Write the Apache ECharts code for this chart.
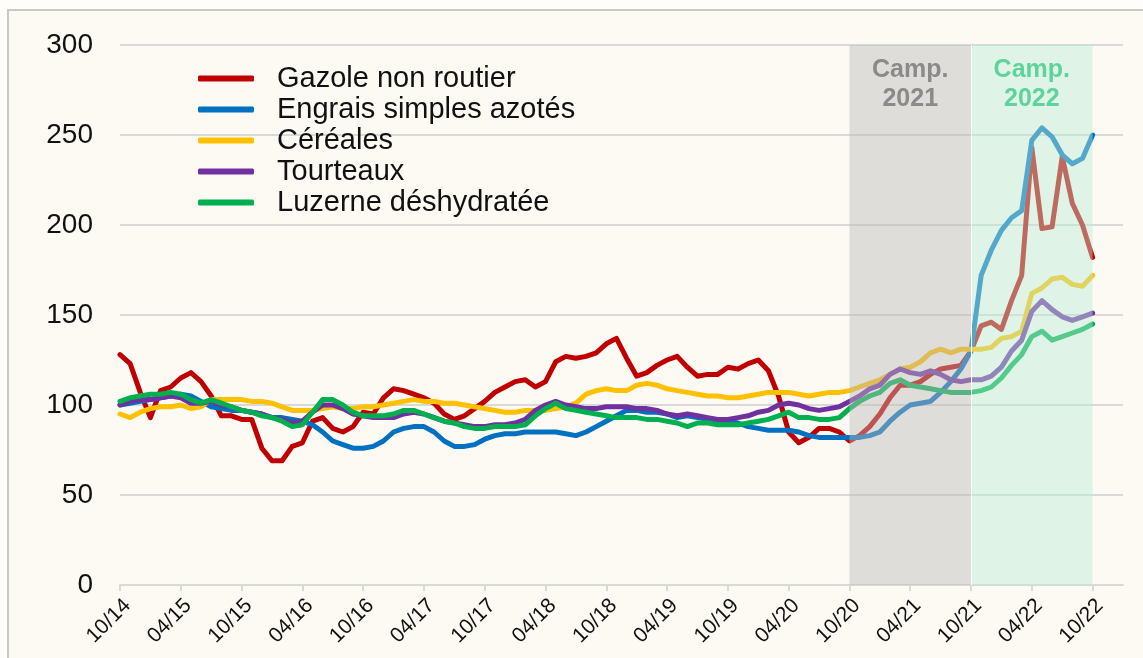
<!DOCTYPE html>
<html>
<head>
<meta charset="utf-8">
<script src="https://cdn.jsdelivr.net/npm/echarts@6/dist/echarts.min.js"></script>
<style>
	html, body { margin: 0; padding: 0; background: #fefdfa; }
	#chart { width: 1143px; height: 658px; }
</style>
</head>
<body>
<div id="chart"></div>
<script>
// monthly index, 10/14 -> 10/22 (97 points), base 100
var gazole = [128, 123, 107, 93, 108, 110, 115, 118, 113, 105, 94, 94, 92, 92, 76, 69, 69, 77, 79, 91,
	93, 87, 85, 88, 96, 95, 104, 109, 108, 106, 104, 101, 95, 92, 94, 98, 102, 107, 110, 113,
	114, 110, 113, 124, 127, 126, 127, 129, 134, 137, 126, 116, 118, 122, 125, 127, 121, 116, 117, 117,
	121, 120, 123, 125, 119, 105, 85, 79, 82, 87, 87, 85, 80, 83, 88, 95, 104, 111, 111, 113,
	117, 120, 121, 122, 130, 144, 146, 142, 158, 172, 243, 198, 199, 238, 212, 200, 182];
var engrais = [100, 101, 102, 103, 104, 105, 106, 105, 102, 99, 98, 97, 97, 96, 95, 93, 93, 92, 91, 89,
	85, 80, 78, 76, 76, 77, 80, 85, 87, 88, 88, 85, 80, 77, 77, 78, 81, 83, 84, 84,
	85, 85, 85, 85, 84, 83, 85, 88, 91, 94, 97, 97, 96, 96, 95, 93, 94, 93, 92, 91,
	91, 90, 88, 87, 86, 86, 86, 85, 83, 82, 82, 82, 82, 82, 83, 85, 91, 96, 100, 101,
	102, 107, 113, 120, 130, 172, 186, 197, 204, 208, 247, 254, 249, 239, 234, 237, 250];
var cereales = [95, 93, 96, 98, 99, 99, 100, 98, 99, 103, 103, 103, 103, 102, 102, 101, 99, 97, 97, 97,
	98, 99, 98, 98, 99, 99, 100, 101, 102, 103, 102, 102, 101, 101, 100, 99, 98, 97, 96, 96,
	97, 97, 97, 98, 99, 101, 106, 108, 109, 108, 108, 111, 112, 111, 109, 108, 107, 106, 105, 105,
	104, 104, 105, 106, 107, 107, 107, 106, 105, 106, 107, 107, 108, 110, 112, 114, 117, 120, 121, 124,
	129, 131, 129, 131, 131, 131, 132, 137, 138, 141, 162, 165, 170, 171, 167, 166, 172];
var tourteaux = [100, 102, 103, 103, 104, 105, 104, 101, 101, 102, 100, 99, 97, 96, 95, 93, 92, 90, 91, 96,
	100, 100, 98, 95, 94, 93, 93, 93, 95, 96, 95, 93, 91, 90, 89, 88, 88, 89, 89, 90,
	92, 97, 100, 102, 100, 99, 98, 98, 99, 99, 99, 98, 98, 97, 95, 94, 95, 94, 93, 92,
	92, 93, 94, 96, 97, 100, 101, 100, 98, 97, 98, 99, 102, 105, 109, 111, 117, 120, 118, 117,
	119, 117, 114, 113, 114, 114, 116, 121, 130, 136, 152, 158, 153, 149, 147, 149, 151];
var luzerne = [102, 104, 105, 106, 106, 107, 106, 103, 101, 103, 101, 99, 97, 96, 94, 93, 91, 88, 89, 96,
	103, 103, 100, 96, 94, 94, 94, 95, 97, 97, 95, 93, 91, 90, 88, 87, 87, 88, 88, 88,
	89, 94, 98, 101, 98, 97, 96, 95, 94, 93, 93, 93, 92, 92, 91, 90, 88, 90, 90, 89,
	89, 89, 90, 91, 92, 94, 96, 93, 93, 92, 92, 93, 98, 102, 105, 107, 112, 114, 111, 110,
	109, 108, 107, 107, 107, 108, 110, 115, 122, 128, 138, 141, 136, 138, 140, 142, 145];

var seriesNames = ['Gazole non routier', 'Engrais simples azotés', 'Céréales', 'Tourteaux', 'Luzerne déshydratée'];
var seriesColors = ['#c00000', '#0070c0', '#ffc000', '#7030a0', '#00b050'];
var yTicks = [0, 50, 100, 150, 200, 250, 300];

// months 10/14 .. 01/23 (axis runs three months past the last point)
var months = [];
for (var i = 0; i < 100; i++) {
	var m = (9 + i) % 12 + 1;
	var y = 14 + Math.floor((9 + i) / 12);
	months.push((m < 10 ? '0' + m : '' + m) + '/' + y);
}
var lastLabel = 96;

var chart = echarts.init(document.getElementById('chart'));
var values = [gazole, engrais, cereales, tourteaux, luzerne];
var lineSeries = values.map(function (d, k) {
	return {
		name: seriesNames[k],
		type: 'line',
		data: d,
		symbol: 'none',
		z: 2,
		lineStyle: { width: 5, color: seriesColors[k], cap: 'round', join: 'round' },
		itemStyle: { color: seriesColors[k] }
	};
});

// bands drawn over the lines
lineSeries.push({
	name: 'bands',
	type: 'line',
	data: [],
	silent: true,
	markArea: {
		silent: true,
		z: 5,
		label: {
			show: true,
			position: 'insideTop',
			distance: 11,
			fontFamily: 'Liberation Sans',
			fontWeight: 'bold',
			fontSize: 25,
			lineHeight: 29
		},
		data: [
			[{ xAxis: '10/20', itemStyle: { color: 'rgba(186,186,187,0.45)' }, label: { formatter: 'Camp.\n2021', color: '#8a8a8a' } }, { xAxis: '10/21' }],
			[{ xAxis: '10/21', itemStyle: { color: 'rgba(186,238,216,0.45)' }, label: { formatter: 'Camp.\n2022', color: '#5ed39b' } }, { xAxis: '10/22' }]
		]
	},
	markLine: {
		silent: true,
		z: 6,
		symbol: 'none',
		label: { show: false },
		lineStyle: { color: '#ffffff', width: 1, type: 'solid' },
		data: [{ xAxis: '10/21' }]
	}
});

var option = {
	backgroundColor: '#fefdfa',
	animation: false,
	graphic: [{
		type: 'rect',
		z: -10,
		shape: { x: 8, y: 10, width: 1200, height: 700 },
		style: { fill: '#fdfaf4', stroke: '#c9c9c9', lineWidth: 2 }
	}],
	grid: { left: 120, right: 20, top: 45, bottom: 73 },
	legend: {
		orient: 'vertical',
		left: 193,
		top: 58,
		icon: 'roundRect',
		itemWidth: 56,
		itemHeight: 6,
		itemGap: 0,
		data: seriesNames,
		textStyle: {
			fontFamily: 'Liberation Sans',
			fontSize: 29,
			color: '#111',
			lineHeight: 31,
			padding: [0, 0, 0, 18]
		}
	},
	xAxis: {
		type: 'category',
		boundaryGap: false,
		data: months,
		axisLine: { lineStyle: { color: '#d9d9d9', width: 2 } },
		axisTick: {
			length: 6,
			lineStyle: { color: '#d9d9d9', width: 2 },
			interval: function (idx) { return idx % 6 === 0 && idx <= lastLabel; }
		},
		axisLabel: {
			rotate: 45,
			margin: 10,
			align: 'right',
			verticalAlign: 'top',
			fontFamily: 'Liberation Sans',
			fontSize: 21,
			color: '#111',
			interval: function (idx) { return idx % 6 === 0 && idx <= lastLabel; }
		},
		splitLine: { show: false }
	},
	yAxis: {
		type: 'value',
		min: yTicks[0],
		max: yTicks[yTicks.length - 1],
		interval: 50,
		axisLine: { show: false },
		axisTick: { show: false },
		axisLabel: {
			margin: 27,
			fontFamily: 'Liberation Sans',
			fontSize: 28,
			color: '#111'
		},
		splitLine: { lineStyle: { color: '#d9d9d9', width: 2 } }
	},
	series: lineSeries
};
chart.setOption(option);
</script>
</body>
</html>
